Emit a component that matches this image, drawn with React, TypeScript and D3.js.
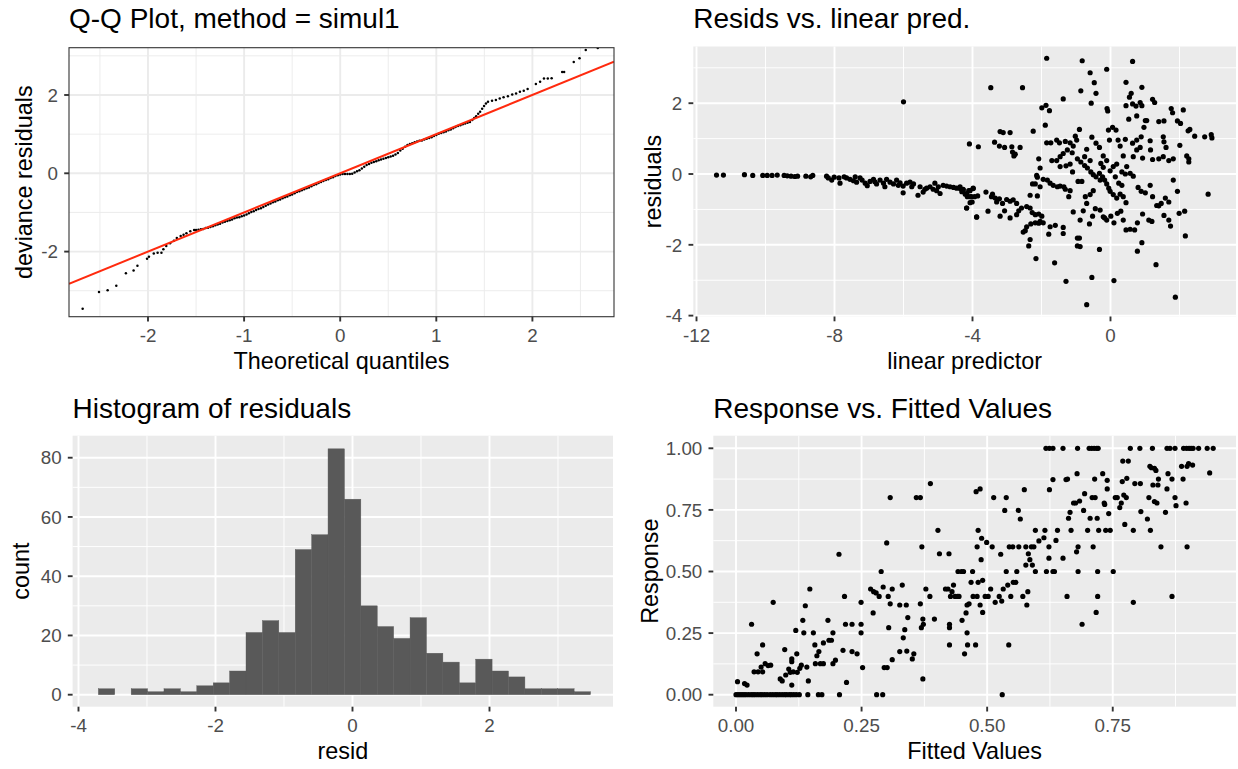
import React, { useEffect, useRef } from 'react';
import * as d3 from 'd3';

type Pt = [number, number];

const W = 1238;
const H = 769;
const FONT = '"Liberation Sans", Arial, Helvetica, sans-serif';

// ---- Q-Q plot: theoretical quantile vs deviance residual ----
const qqPoints: Pt[] = [
  [-2.68, -3.46], [-2.51, -3.03], [-2.42, -2.99], [-2.33, -2.87], [-2.23, -2.55], [-2.15, -2.48],
  [-2.11, -2.36], [-2.01, -2.18], [-1.99, -2.13], [-1.94, -2.05], [-1.90, -2.03], [-1.86, -2.03],
  [-1.84, -1.94], [-1.81, -1.86], [-1.77, -1.79], [-1.73, -1.72], [-1.70, -1.65], [-1.66, -1.60],
  [-1.63, -1.57], [-1.60, -1.53], [-1.56, -1.48], [-1.52, -1.45],
  [-1.5, -1.45], [-1.475, -1.44], [-1.45, -1.43], [-1.425, -1.42], [-1.4, -1.4], [-1.375, -1.39],
  [-1.35, -1.37], [-1.325, -1.35], [-1.3, -1.33], [-1.275, -1.31], [-1.25, -1.29], [-1.225, -1.26],
  [-1.2, -1.24], [-1.175, -1.22], [-1.15, -1.2], [-1.125, -1.18], [-1.1, -1.15], [-1.075, -1.13],
  [-1.05, -1.12], [-1.025, -1.1], [-1.0, -1.08], [-0.975, -1.05], [-0.95, -1.02], [-0.925, -0.99],
  [-0.9, -0.97], [-0.875, -0.94], [-0.85, -0.91], [-0.825, -0.89], [-0.8, -0.86], [-0.775, -0.83],
  [-0.75, -0.8], [-0.725, -0.77], [-0.7, -0.74], [-0.675, -0.72], [-0.65, -0.69], [-0.625, -0.67],
  [-0.6, -0.64], [-0.575, -0.61], [-0.55, -0.59], [-0.525, -0.56], [-0.5, -0.54], [-0.475, -0.51],
  [-0.45, -0.48], [-0.425, -0.46], [-0.4, -0.43], [-0.375, -0.41], [-0.35, -0.38], [-0.325, -0.36],
  [-0.3, -0.33], [-0.275, -0.3], [-0.25, -0.28], [-0.225, -0.25], [-0.2, -0.22], [-0.175, -0.2],
  [-0.15, -0.17], [-0.125, -0.15], [-0.1, -0.12], [-0.075, -0.1], [-0.05, -0.07], [-0.025, -0.05],
  [0.0, -0.03], [0.025, -0.02], [0.05, -0.02], [0.075, -0.02], [0.1, -0.02], [0.125, -0.01],
  [0.15, 0.02], [0.175, 0.05], [0.2, 0.08], [0.225, 0.12], [0.25, 0.17], [0.275, 0.21],
  [0.3, 0.24], [0.325, 0.27], [0.35, 0.29], [0.375, 0.31], [0.4, 0.33], [0.425, 0.35],
  [0.45, 0.37], [0.475, 0.39], [0.5, 0.41], [0.525, 0.43], [0.55, 0.45], [0.575, 0.48],
  [0.6, 0.52], [0.625, 0.58], [0.65, 0.63], [0.675, 0.68], [0.7, 0.72], [0.725, 0.75],
  [0.75, 0.77], [0.775, 0.79], [0.8, 0.81], [0.825, 0.83], [0.85, 0.84], [0.875, 0.86],
  [0.9, 0.88], [0.925, 0.9], [0.95, 0.92], [0.975, 0.95], [1.0, 0.98], [1.025, 1.01],
  [1.05, 1.03], [1.075, 1.05], [1.1, 1.07], [1.125, 1.1], [1.15, 1.12], [1.175, 1.15],
  [1.2, 1.18], [1.225, 1.21], [1.25, 1.23], [1.275, 1.25], [1.3, 1.27], [1.325, 1.29], [1.35, 1.31],
  [1.374, 1.36], [1.395, 1.41], [1.415, 1.46], [1.436, 1.52], [1.456, 1.57], [1.477, 1.65],
  [1.497, 1.72], [1.517, 1.78], [1.538, 1.83], [1.58, 1.85], [1.62, 1.87], [1.66, 1.91],
  [1.70, 1.94], [1.745, 1.97], [1.79, 2.01], [1.83, 2.04], [1.87, 2.08], [1.91, 2.11],
  [1.95, 2.15], [2.036, 2.28], [2.08, 2.34], [2.12, 2.42], [2.16, 2.42], [2.20, 2.43],
  [2.31, 2.59], [2.33, 2.59], [2.43, 2.84], [2.49, 2.94], [2.555, 3.15], [2.68, 3.2],
];

// ---- residuals vs linear predictor ----
const linPredResid: Pt[] = [
  [-11.42, -0.03], [-11.22, -0.03], [-10.61, -0.02], [-10.37, -0.04], [-10.08, -0.04], [-9.95, -0.04],
  [-9.81, -0.04], [-9.66, -0.03], [-9.46, -0.04], [-9.37, -0.05], [-9.26, -0.06], [-9.15, -0.07],
  [-9.07, -0.06], [-8.83, -0.06], [-8.69, -0.08], [-8.63, -0.04], [-8.23, -0.06], [-8.18, -0.11],
  [-8.08, -0.17], [-8.01, -0.09], [-7.87, -0.11], [-7.84, -0.26], [-7.72, -0.08], [-7.65, -0.11],
  [-7.55, -0.15], [-7.45, -0.19], [-7.4, -0.08], [-7.36, -0.23], [-7.26, -0.11], [-7.2, -0.17],
  [-7.11, -0.26], [-7.05, -0.33], [-6.97, -0.21], [-6.87, -0.15], [-6.83, -0.22], [-6.78, -0.28],
  [-6.68, -0.17], [-6.58, -0.26], [-6.54, -0.36], [-6.49, -0.15], [-6.39, -0.23], [-6.29, -0.28],
  [-6.2, -0.17], [-6.15, -0.32], [-6.1, -0.25], [-6.01, -0.34], [-6.01, -0.53], [-6.0, 2.04],
  [-5.91, -0.26], [-5.81, -0.23], [-5.76, -0.36], [-5.71, -0.28], [-5.58, -0.6], [-5.52, -0.36],
  [-5.43, -0.51], [-5.38, -0.43], [-5.33, -0.4], [-5.23, -0.36], [-5.14, -0.43], [-5.09, -0.26],
  [-5.04, -0.47], [-4.99, -0.36], [-4.94, -0.55], [-4.85, -0.32], [-4.75, -0.34], [-4.65, -0.36],
  [-4.55, -0.38], [-4.46, -0.4], [-4.36, -0.41], [-4.31, -0.5], [-4.27, -0.43], [-4.21, -0.57],
  [-4.17, -0.96], [-4.15, -0.64], [-4.11, -0.47], [-4.07, -0.64], [-4.01, -0.79], [-3.98, -0.41],
  [-3.94, -0.64], [-3.88, -1.22], [-3.85, -0.62],
  [-1.85, 3.27], [-0.82, 3.2], [0.64, 3.18], [-0.11, 2.96], [-0.59, 2.86], [-0.47, 2.58],
  [0.45, 2.59], [-3.47, 2.44], [-2.55, 2.44], [-0.86, 2.35], [-0.42, 2.28], [0.91, 2.45],
  [0.6, 2.28], [0.55, 2.17], [-1.37, 2.12], [-0.56, 2.0], [-1.99, 1.87], [-1.87, 1.94],
  [-1.77, 1.79], [0.45, 1.93], [0.64, 1.98], [0.74, 1.92], [0.86, 2.02], [0.91, 1.93],
  [1.22, 2.11], [1.28, 2.02], [-0.1, 1.85], [-0.08, 1.78], [1.76, 1.85], [1.8, 1.73],
  [2.11, 1.81], [1.94, 1.5], [2.03, 1.43], [1.4, 1.48], [1.55, 1.5], [1.01, 1.51],
  [0.76, 1.64], [0.53, 1.55], [-1.89, 1.38], [-2.24, 1.21], [-3.2, 1.2], [-3.11, 1.17],
  [-2.91, 1.17], [-4.09, 0.85], [-3.83, 0.77], [-3.36, 0.9], [-3.22, 0.79], [-3.07, 0.75],
  [-2.86, 0.77], [-2.84, 0.62], [-2.8, 0.51], [-2.76, 0.56], [-2.62, 0.75],
  [-1.85, 0.88], [-1.73, 0.88], [-1.56, 0.96], [-1.48, 0.88], [-1.31, 0.92], [-1.17, 0.88],
  [-1.02, 1.07], [-0.9, 1.26], [-0.98, 0.96], [-1.08, 0.79], [-1.11, 0.6], [-1.25, 0.68],
  [-1.37, 0.58], [-1.46, 0.49], [-1.56, 0.38], [-1.7, 0.38], [-1.46, 0.21], [-1.29, 0.23],
  [-1.17, 0.28], [-0.96, 0.43], [-0.86, 0.34], [-0.75, 0.49], [-0.69, 0.7], [-0.59, 0.38],
  [-0.54, 1.04], [-0.42, 0.87], [-0.32, 0.75], [-0.21, 0.51], [-0.28, 0.3], [-0.11, 0.38],
  [-0.21, 0.19], [-0.06, 1.24], [-0.03, 0.96], [0.06, 1.32], [0.16, 1.24], [0.22, 0.96],
  [0.28, 0.79], [0.37, 0.51], [0.18, 0.28], [0.08, 0.21], [-0.01, 0.09], [0.43, 0.98],
  [0.64, 0.87], [0.76, 0.96], [0.89, 1.05], [0.97, 1.32], [1.05, 1.51], [0.86, 0.75],
  [0.76, 0.68], [0.66, 0.49], [0.93, 0.45], [1.15, 0.94], [1.16, 0.68], [1.22, 0.41],
  [1.4, 0.43], [1.53, 1.05], [1.55, 0.91], [1.61, 0.75], [1.53, 0.49], [1.69, 0.38],
  [1.82, 0.43], [2.01, 0.81], [2.21, 0.51], [2.27, 0.43], [2.27, 0.34], [2.25, 1.22],
  [2.3, 1.26], [2.44, 1.07], [2.73, 1.05], [2.92, 1.11], [2.94, 1.02], [2.83, -0.57],
  [-2.14, -0.04], [-2.12, -0.09], [-2.04, 0.17], [-2.08, 0.43], [-2.18, -0.28], [-2.26, -0.28],
  [-2.33, -0.6], [-2.12, -0.62], [-2.04, -0.36], [-1.95, -0.15], [-1.83, -0.17], [-1.75, -0.26],
  [-1.66, -0.32], [-1.54, -0.36], [-1.46, -0.34], [-1.35, -0.36], [-1.31, -0.43], [-1.21, -0.64],
  [-1.17, -0.47], [-1.1, 0.06], [-0.94, -0.21], [-0.83, -0.21], [-0.75, 0.24], [-0.67, 0.17],
  [-0.57, 0.06], [-0.5, -0.02], [-0.42, -0.08], [-0.32, 0.02], [-0.3, -0.17], [-0.23, -0.08],
  [-0.17, -0.17], [-0.11, -0.28], [-0.05, -0.4], [-0.01, -0.49], [0.08, -0.58], [0.18, -0.68],
  [0.28, -0.57], [0.37, -0.64], [0.45, -0.81], [0.33, -0.32], [0.24, -0.26], [0.14, -0.08],
  [0.33, 0.06], [0.43, 0.0], [0.47, 0.21], [0.57, 0.02], [0.66, -0.06], [0.8, -0.38],
  [0.89, -0.49], [1.01, -0.53], [1.15, -0.32], [1.22, -0.64], [1.4, -0.9], [1.47, -0.83],
  [1.59, -0.68], [1.69, -0.79], [1.82, -0.17], [1.94, -0.49], [1.99, -1.11], [2.15, -1.05],
  [2.17, -1.75], [-0.5, -0.47], [-0.59, -0.58], [-0.69, -0.83], [-0.73, -0.64], [-0.79, -1.04],
  [-0.88, -1.3], [-1.08, -1.07], [-0.96, -1.81], [-0.88, -2.05], [-0.61, -1.41], [-0.52, -1.19],
  [-0.44, -0.98], [-0.3, -1.02], [-0.21, -1.21], [-0.17, -1.24], [-0.11, -1.3], [0.01, -1.19],
  [0.1, -1.38], [0.2, -1.11], [0.3, -1.05], [0.37, -1.3], [0.45, -1.58], [0.57, -1.56],
  [0.7, -1.58], [0.78, -1.38], [0.93, -1.13], [1.11, -1.3], [1.2, -1.34], [1.34, -0.89],
  [1.55, -1.17], [1.69, -1.3], [1.74, -1.47],
  [-4.36, -0.36], [-4.27, -0.45], [-4.17, -0.55], [-4.07, -0.47], [-3.98, -0.4], [-4.03, -0.64],
  [-4.07, -0.81], [-4.17, -0.96], [-3.88, -1.21], [-3.55, -1.05], [-3.61, -0.51], [-3.45, -0.64],
  [-3.42, -0.57], [-3.34, -0.68], [-3.3, -0.79], [-3.22, -0.7], [-3.13, -0.83], [-3.01, -0.72],
  [-2.91, -0.77], [-2.82, -0.73], [-2.72, -0.83], [-2.58, -0.96], [-2.66, -1.04], [-2.72, -1.15],
  [-2.91, -1.24], [-3.07, -1.04], [-3.2, -1.19], [-2.43, -0.92], [-2.33, -0.96], [-2.27, -1.09],
  [-2.18, -1.15], [-2.08, -1.13], [-1.99, -1.19], [-2.04, -1.34], [-1.95, -1.38], [-2.08, -1.39],
  [-2.18, -1.38], [-2.31, -1.41], [-2.43, -1.49], [-2.53, -1.64], [-2.47, -1.6], [-2.33, -1.85],
  [-2.37, -2.03], [-2.16, -2.39], [-1.79, -1.7], [-1.75, -1.49], [-1.6, -1.45], [-1.62, -2.51],
  [-1.37, -1.68], [-1.37, -1.51], [-1.29, -3.03], [-0.96, -2.03], [-0.9, -1.81], [-0.54, -2.92],
  [-0.32, -2.13], [0.1, -3.01], [-0.69, -3.69], [0.91, -1.94], [0.78, -2.18], [1.32, -2.56],
  [1.88, -3.48],
];

// ---- histogram of residuals: 30 bins ----
const histStart = -3.71;
const histWidth = 0.2395;
const histCounts = [2, 0, 2, 1, 2, 1, 3, 4, 8, 21, 25, 21, 49, 54, 83, 66, 30, 23, 19, 26, 14, 11, 4, 12, 8, 6, 2, 2, 2, 1];

// ---- response vs fitted values ----
const fittedZero = [
  0.0, 0.004, 0.008, 0.012, 0.016, 0.02, 0.025, 0.03, 0.034, 0.038, 0.043, 0.048, 0.052, 0.057,
  0.062, 0.068, 0.073, 0.078, 0.082, 0.087, 0.092, 0.097, 0.101, 0.106, 0.11, 0.115, 0.12, 0.126,
  0.143, 0.164, 0.171, 0.206, 0.28, 0.292, 0.53,
];
const fittedOne = [
  0.617, 0.624, 0.631, 0.651, 0.68, 0.703, 0.708, 0.713, 0.718, 0.721, 0.785, 0.804, 0.829, 0.858,
  0.864, 0.874, 0.891, 0.897, 0.902, 0.906, 0.91, 0.921, 0.938, 0.95,
];
const fittedResponse: Pt[] = [
  [0.003, 0.053], [0.017, 0.045], [0.022, 0.039], [0.031, 0.286], [0.036, 0.093], [0.042, 0.166],
  [0.044, 0.093], [0.05, 0.112], [0.053, 0.202], [0.053, 0.093], [0.058, 0.126], [0.064, 0.118],
  [0.069, 0.12], [0.074, 0.375], [0.088, 0.064], [0.092, 0.056], [0.097, 0.183], [0.099, 0.08],
  [0.105, 0.104], [0.108, 0.091], [0.111, 0.145], [0.111, 0.134], [0.114, 0.093], [0.111, 0.039],
  [0.119, 0.261], [0.121, 0.166], [0.122, 0.091], [0.127, 0.107], [0.13, 0.12], [0.133, 0.302],
  [0.135, 0.251], [0.138, 0.361], [0.141, 0.112], [0.144, 0.056], [0.147, 0.429], [0.154, 0.251],
  [0.157, 0.202], [0.158, 0.126], [0.161, 0.158], [0.165, 0.175], [0.168, 0.126], [0.174, 0.126],
  [0.174, 0.21], [0.183, 0.302], [0.185, 0.221], [0.19, 0.221], [0.193, 0.126], [0.193, 0.251],
  [0.198, 0.14], [0.205, 0.57], [0.213, 0.18], [0.216, 0.399], [0.218, 0.286], [0.22, 0.05],
  [0.231, 0.286], [0.231, 0.175], [0.241, 0.166], [0.249, 0.375], [0.249, 0.286], [0.249, 0.251],
  [0.252, 0.11], [0.268, 0.429], [0.273, 0.332], [0.274, 0.418], [0.279, 0.413], [0.285, 0.399],
  [0.289, 0.5], [0.293, 0.437], [0.295, 0.11], [0.301, 0.11], [0.3, 0.616], [0.303, 0.399],
  [0.304, 0.272], [0.307, 0.8], [0.307, 0.369], [0.311, 0.429], [0.311, 0.142], [0.326, 0.175],
  [0.326, 0.364], [0.331, 0.445], [0.333, 0.231], [0.336, 0.264], [0.339, 0.364], [0.34, 0.177],
  [0.342, 0.313], [0.351, 0.145], [0.354, 0.166], [0.359, 0.8], [0.367, 0.8], [0.367, 0.369],
  [0.369, 0.272], [0.37, 0.6], [0.372, 0.307], [0.372, 0.064], [0.373, 0.286], [0.378, 0.429],
  [0.386, 0.399], [0.387, 0.857], [0.395, 0.307], [0.402, 0.667], [0.405, 0.572], [0.417, 0.429],
  [0.422, 0.429], [0.424, 0.572], [0.425, 0.286], [0.425, 0.272], [0.425, 0.202], [0.427, 0.399],
  [0.43, 0.418], [0.433, 0.445], [0.436, 0.399], [0.441, 0.399], [0.444, 0.399], [0.442, 0.5],
  [0.449, 0.5], [0.45, 0.302], [0.453, 0.5], [0.455, 0.166], [0.458, 0.332], [0.46, 0.251],
  [0.46, 0.364], [0.461, 0.202], [0.464, 0.369], [0.468, 0.456], [0.471, 0.5], [0.472, 0.399],
  [0.477, 0.202], [0.478, 0.824], [0.48, 0.399], [0.48, 0.6], [0.482, 0.667], [0.482, 0.456],
  [0.486, 0.835], [0.486, 0.364], [0.488, 0.548], [0.489, 0.635], [0.491, 0.334], [0.491, 0.464],
  [0.496, 0.399], [0.499, 0.618], [0.502, 0.399], [0.507, 0.429], [0.51, 0.6], [0.513, 0.8],
  [0.516, 0.375], [0.524, 0.399], [0.527, 0.57], [0.529, 0.38], [0.532, 0.429], [0.535, 0.748],
  [0.538, 0.8], [0.538, 0.5], [0.541, 0.445], [0.543, 0.202], [0.544, 0.6], [0.547, 0.399],
  [0.551, 0.6], [0.552, 0.456], [0.557, 0.456], [0.559, 0.5], [0.562, 0.748], [0.563, 0.6],
  [0.566, 0.713], [0.571, 0.399], [0.574, 0.832], [0.577, 0.6], [0.577, 0.526], [0.579, 0.364],
  [0.581, 0.418], [0.582, 0.572], [0.585, 0.548], [0.588, 0.6], [0.59, 0.526], [0.593, 0.6],
  [0.596, 0.5], [0.596, 0.667], [0.603, 0.624], [0.613, 0.637], [0.615, 0.667], [0.618, 0.5],
  [0.623, 0.6], [0.623, 0.554], [0.624, 0.832], [0.631, 0.873], [0.631, 0.5], [0.634, 0.5],
  [0.637, 0.626], [0.64, 0.667], [0.651, 0.554], [0.657, 0.873], [0.66, 0.875], [0.659, 0.399],
  [0.662, 0.716], [0.665, 0.74], [0.667, 0.667], [0.672, 0.778], [0.676, 0.778], [0.678, 0.58],
  [0.679, 0.897], [0.681, 0.6], [0.681, 0.5], [0.684, 0.786], [0.689, 0.286], [0.692, 0.748],
  [0.694, 0.816], [0.7, 0.667], [0.705, 0.716], [0.709, 0.8], [0.711, 0.6], [0.714, 0.875],
  [0.715, 0.8], [0.717, 0.334], [0.719, 0.716], [0.72, 0.5], [0.72, 0.399], [0.722, 0.667],
  [0.73, 0.897], [0.733, 0.778], [0.734, 0.772], [0.736, 0.667], [0.739, 0.835], [0.739, 0.87],
  [0.742, 0.735], [0.745, 0.667], [0.751, 0.5], [0.755, 0.8], [0.759, 0.8], [0.764, 0.759],
  [0.767, 0.778], [0.769, 0.865], [0.77, 0.948], [0.772, 0.81], [0.774, 0.691], [0.777, 0.8],
  [0.778, 0.878], [0.781, 0.948], [0.791, 0.375], [0.791, 0.667], [0.794, 0.857], [0.805, 0.857],
  [0.806, 0.743], [0.819, 0.713], [0.822, 0.8], [0.824, 0.927], [0.825, 0.667], [0.827, 0.921],
  [0.83, 0.851], [0.833, 0.919], [0.833, 0.784], [0.836, 0.91], [0.838, 0.778], [0.84, 0.851],
  [0.841, 0.875], [0.846, 0.6], [0.855, 0.74], [0.858, 0.835], [0.86, 0.897], [0.868, 0.399],
  [0.868, 0.875], [0.874, 0.8], [0.876, 0.767], [0.887, 0.927], [0.89, 0.875], [0.896, 0.778],
  [0.898, 0.927], [0.898, 0.6], [0.901, 0.938], [0.909, 0.932], [0.943, 0.9],
];

interface PanelSpec {
  left: number; right: number; top: number; bottom: number;
  xDomain: [number, number]; yDomain: [number, number];
  xMajor: number[]; xMinor: number[]; yMajor: number[]; yMinor: number[];
  bw: boolean; title: string; titleY: number; xTitle: string; yTitle: string; yTitleX: number;
  fmt: (v: number) => string;
}

const TICK_SIZE = 18.8;
const AXIS_SIZE = 23.4;
const TITLE_SIZE = 28;

function label(g: any, x: number, y: number, txt: string, size: number, anchor: string, fill: string, rotate = false) {
  return g.append('text')
    .attr('transform', rotate ? `translate(${x},${y}) rotate(-90)` : `translate(${x},${y})`)
    .attr('text-anchor', anchor)
    .attr('font-family', FONT)
    .attr('font-size', size)
    .attr('fill', fill)
    .text(txt);
}

function drawPanel(svg: any, s: PanelSpec, id: string) {
  const x = d3.scaleLinear().domain(s.xDomain).range([s.left, s.right]);
  const y = d3.scaleLinear().domain(s.yDomain).range([s.bottom, s.top]);
  const gridCol = s.bw ? '#EBEBEB' : '#FFFFFF';
  const w = s.right - s.left;
  const h = s.bottom - s.top;

  svg.append('rect')
    .attr('x', s.left).attr('y', s.top).attr('width', w).attr('height', h)
    .attr('fill', s.bw ? '#FFFFFF' : '#EBEBEB');

  const grid = svg.append('g');
  const vline = (vals: number[], sw: number) => grid.append('g').selectAll('line').data(vals).join('line')
    .attr('x1', (d: number) => x(d)).attr('x2', (d: number) => x(d))
    .attr('y1', s.top).attr('y2', s.bottom)
    .attr('stroke', gridCol).attr('stroke-width', sw);
  const hline = (vals: number[], sw: number) => grid.append('g').selectAll('line').data(vals).join('line')
    .attr('y1', (d: number) => y(d)).attr('y2', (d: number) => y(d))
    .attr('x1', s.left).attr('x2', s.right)
    .attr('stroke', gridCol).attr('stroke-width', sw);
  hline(s.yMinor, 0.95);
  vline(s.xMinor, 0.95);
  hline(s.yMajor, 1.9);
  vline(s.xMajor, 1.9);

  svg.append('clipPath').attr('id', id).append('rect')
    .attr('x', s.left).attr('y', s.top).attr('width', w).attr('height', h);
  const plot = svg.append('g').attr('clip-path', `url(#${id})`);

  const ax = svg.append('g');
  ax.append('g').selectAll('line').data(s.xMajor).join('line')
    .attr('x1', (d: number) => x(d)).attr('x2', (d: number) => x(d))
    .attr('y1', s.bottom).attr('y2', s.bottom + 4.8)
    .attr('stroke', '#333333').attr('stroke-width', 1.9);
  s.xMajor.forEach(v => label(ax, x(v), s.bottom + 25.6, s.fmt(v), TICK_SIZE, 'middle', '#4D4D4D'));
  ax.append('g').selectAll('line').data(s.yMajor).join('line')
    .attr('y1', (d: number) => y(d)).attr('y2', (d: number) => y(d))
    .attr('x1', s.left).attr('x2', s.left - 4.8)
    .attr('stroke', '#333333').attr('stroke-width', 1.9);
  s.yMajor.forEach(v => label(ax, s.left - 11, y(v) + 6.7, s.fmt(v), TICK_SIZE, 'end', '#4D4D4D'));

  label(ax, (s.left + s.right) / 2, s.bottom + 52.5, s.xTitle, AXIS_SIZE, 'middle', '#000000');
  label(ax, s.yTitleX, (s.top + s.bottom) / 2, s.yTitle, AXIS_SIZE, 'middle', '#000000', true);
  label(ax, s.left, s.titleY, s.title, TITLE_SIZE, 'start', '#000000');

  const frame = () => {
    if (s.bw) {
      svg.append('rect')
        .attr('x', s.left).attr('y', s.top).attr('width', w).attr('height', h)
        .attr('fill', 'none').attr('stroke', '#333333').attr('stroke-width', 1.1);
    }
  };

  return { x, y, plot, frame };
}

const intFmt = (v: number) => String(v);

export default function App() {
  const ref = useRef<SVGSVGElement>(null);

  useEffect(() => {
    const svg = d3.select(ref.current);
    svg.selectAll('*').remove();
    svg.append('rect').attr('width', W).attr('height', H).attr('fill', '#FFFFFF');

    // Q-Q plot
    const qq = drawPanel(svg, {
      left: 69, right: 614, top: 47.7, bottom: 316.7,
      xDomain: [-2.822, 2.849], yDomain: [-3.663, 3.208],
      xMajor: [-2, -1, 0, 1, 2], xMinor: [-2.5, -1.5, -0.5, 0.5, 1.5, 2.5],
      yMajor: [-2, 0, 2], yMinor: [-3, -1, 1, 3],
      bw: true, title: 'Q-Q Plot, method = simul1', titleY: 28,
      xTitle: 'Theoretical quantiles', yTitle: 'deviance residuals', yTitleX: 31.5, fmt: intFmt,
    }, 'clip-qq');
    const xd = qq.x.domain();
    qq.plot.append('g').selectAll('circle').data(qqPoints).join('circle')
      .attr('cx', (d: Pt) => qq.x(d[0])).attr('cy', (d: Pt) => qq.y(d[1]))
      .attr('r', 1.25).attr('fill', '#000000');
    qq.plot.append('line')
      .attr('x1', qq.x(xd[0])).attr('y1', qq.y(xd[0]))
      .attr('x2', qq.x(xd[1])).attr('y2', qq.y(xd[1]))
      .attr('stroke', '#FF2A0E').attr('stroke-width', 2);
    qq.frame();

    // residuals vs linear predictor
    const lp = drawPanel(svg, {
      left: 693.3, right: 1236, top: 46.5, bottom: 316.5,
      xDomain: [-12.093, 3.638], yDomain: [-4.025, 3.602],
      xMajor: [-12, -8, -4, 0], xMinor: [-10, -6, -2, 2],
      yMajor: [-4, -2, 0, 2], yMinor: [-3, -1, 1, 3],
      bw: false, title: 'Resids vs. linear pred.', titleY: 28,
      xTitle: 'linear predictor', yTitle: 'residuals', yTitleX: 661, fmt: intFmt,
    }, 'clip-lp');
    lp.plot.append('g').selectAll('circle').data(linPredResid).join('circle')
      .attr('cx', (d: Pt) => lp.x(d[0])).attr('cy', (d: Pt) => lp.y(d[1]))
      .attr('r', 2.6).attr('fill', '#000000');

    // histogram
    const hi = drawPanel(svg, {
      left: 72.6, right: 613, top: 435.7, bottom: 706.7,
      xDomain: [-4.086, 3.803], yDomain: [-4.05, 87.43],
      xMajor: [-4, -2, 0, 2], xMinor: [-3, -1, 1, 3],
      yMajor: [0, 20, 40, 60, 80], yMinor: [10, 30, 50, 70],
      bw: false, title: 'Histogram of residuals', titleY: 418.3,
      xTitle: 'resid', yTitle: 'count', yTitleX: 29, fmt: intFmt,
    }, 'clip-hist');
    const bins = histCounts.map((c, i) => ({ x0: histStart + i * histWidth, x1: histStart + (i + 1) * histWidth, c }));
    hi.plot.append('g').selectAll('rect').data(bins.filter(b => b.c > 0)).join('rect')
      .attr('x', (b: any) => hi.x(b.x0)).attr('width', (b: any) => hi.x(b.x1) - hi.x(b.x0))
      .attr('y', (b: any) => hi.y(b.c)).attr('height', (b: any) => hi.y(0) - hi.y(b.c))
      .attr('fill', '#595959').attr('stroke', '#595959').attr('stroke-width', 0.4);

    // response vs fitted
    const rf = drawPanel(svg, {
      left: 713.3, right: 1236, top: 435.7, bottom: 706.7,
      xDomain: [-0.0452, 0.9954], yDomain: [-0.0487, 1.0511],
      xMajor: [0, 0.25, 0.5, 0.75], xMinor: [0.125, 0.375, 0.625, 0.875],
      yMajor: [0, 0.25, 0.5, 0.75, 1], yMinor: [0.125, 0.375, 0.625, 0.875],
      bw: false, title: 'Response vs. Fitted Values', titleY: 418.3,
      xTitle: 'Fitted Values', yTitle: 'Response', yTitleX: 657.5, fmt: (v: number) => v.toFixed(2),
    }, 'clip-rf');
    const allRF: Pt[] = [
      ...fittedZero.map(v => [v, 0] as Pt),
      ...fittedOne.map(v => [v, 1] as Pt),
      ...fittedResponse,
    ];
    rf.plot.append('g').selectAll('circle').data(allRF).join('circle')
      .attr('cx', (d: Pt) => rf.x(d[0])).attr('cy', (d: Pt) => rf.y(d[1]))
      .attr('r', 2.6).attr('fill', '#000000');
  }, []);

  return (
    <svg
      ref={ref}
      width={W}
      height={H}
      viewBox={`0 0 ${W} ${H}`}
      style={{ position: 'absolute', left: 0, top: 0, display: 'block' }}
    />
  );
}
